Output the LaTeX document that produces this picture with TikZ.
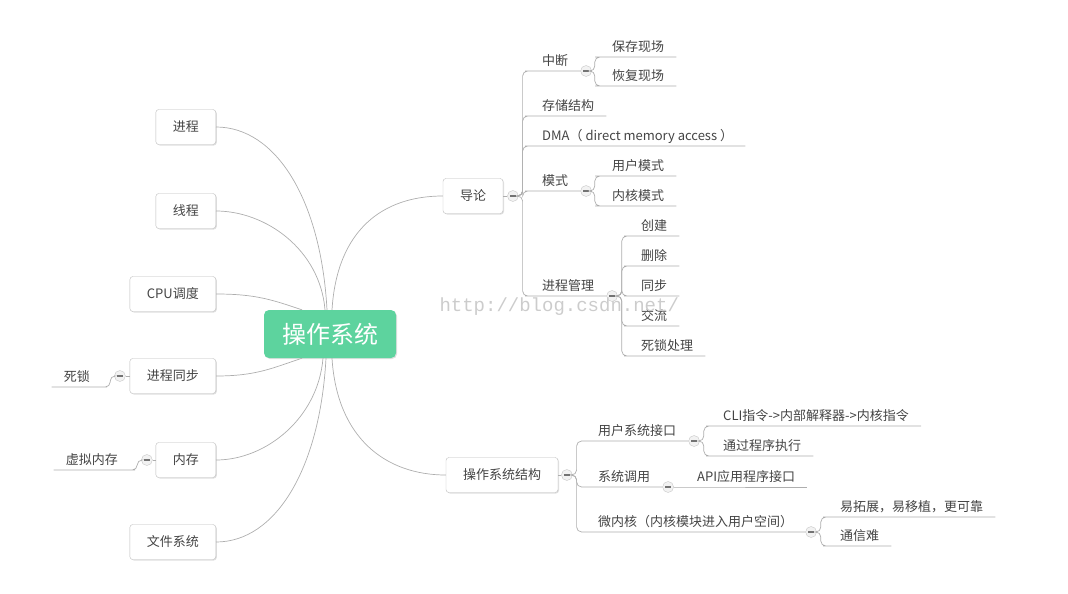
\documentclass[tikz,border=0pt]{standalone}
\usepackage{fontspec}
\setmainfont{Noto Sans CJK SC}
\newfontfamily\wmfont{Liberation Mono}
\usetikzlibrary{positioning,shadows}
\definecolor{inkgray}{HTML}{444444}
\definecolor{linegray}{HTML}{AEAEAE}
\definecolor{boxgray}{HTML}{BDBDBD}
\definecolor{rootgreen}{HTML}{5DD39E}
\tikzset{
  topic/.style={draw=boxgray, fill=white, rounded corners=3pt, minimum height=35pt,
    inner xsep=17pt, text=inkgray, font=\fontsize{13}{15}\selectfont,
    drop shadow={opacity=0.25, shadow xshift=1pt, shadow yshift=-1pt}},
  leaf/.style={inner xsep=12pt, inner ysep=3pt, text height=11pt, text depth=2pt,
    text=inkgray, font=\fontsize{13}{15}\selectfont},
  link/.style={draw=linegray, line width=0.7pt},
  elbow/.style={link, rounded corners=5pt},
  fold/.style={circle, draw=gray!45, fill=gray!10, minimum size=11pt, inner sep=0pt,
    path picture={\draw[black!55, line width=1.6pt]
      ([xshift=-2.8pt]path picture bounding box.center) --
      ([xshift=2.8pt]path picture bounding box.center);}},
}
\begin{document}
\begin{tikzpicture}[x=1pt, y=-1pt]
  \useasboundingbox (0,0) rectangle (1068,594);

  % root
  \node[fill=rootgreen, rounded corners=5pt, minimum width=132pt, minimum height=48pt,
    text=white, font=\fontsize{24}{28}\selectfont,
    drop shadow={opacity=0.25, shadow xshift=1pt, shadow yshift=-1pt}] (os) at (330,334) {操作系统};

  % left topics
  \node[topic, anchor=east] (jc) at (216,127) {进程};
  \node[topic, anchor=east] (xc) at (216,211) {线程};
  \node[topic, anchor=east] (cpu) at (216,294) {CPU调度};
  \node[topic, anchor=east] (jctb) at (216,376) {进程同步};
  \node[topic, anchor=east] (nc) at (216,460) {内存};
  \node[topic, anchor=east] (wjxt) at (216,542) {文件系统};

  \draw[link] (jc.east) .. controls +(60,0) and +(-6,-110) .. ([xshift=-3pt]os.north);
  \draw[link] (xc.east) .. controls +(50,0) and +(-5,-60) .. ([xshift=-5pt]os.north);
  \draw[link] (cpu.east) .. controls +(40,0) and +(-30,-10) .. ([xshift=-28pt]os.north);
  \draw[link] (jctb.east) .. controls +(40,0) and +(-30,10) .. ([xshift=-28pt]os.south);
  \draw[link] (nc.east) .. controls +(50,0) and +(-5,60) .. ([xshift=-7pt]os.south);
  \draw[link] (wjxt.east) .. controls +(60,0) and +(-6,110) .. ([xshift=-4pt]os.south);

  % left sub leaves
  \node[fold, left=4pt of jctb] (jctbfold) {};
  \node[leaf, anchor=south east] (ss) at (102,387) {死锁};
  \draw[link] (jctb.west) -- (jctbfold.east);
  \draw[elbow] (jctbfold.west) -- ++(-4,0) |- (ss.south east) -- (ss.south west);

  \node[fold, left=3pt of nc] (ncfold) {};
  \node[leaf, anchor=south east] (xnnc) at (130,470) {虚拟内存};
  \draw[link] (nc.west) -- (ncfold.east);
  \draw[elbow] (ncfold.west) -- ++(-4,0) |- (xnnc.south east) -- (xnnc.south west);

  % right topics
  \node[topic] (dl) at (473,196) {导论};
  \node[topic] (jg) at (502,475) {操作系统结构};
  \draw[link] (dl.west) .. controls +(-60,0) and +(5,-80) .. ([xshift=2pt]os.north);
  \draw[link] (jg.west) .. controls +(-60,0) and +(5,80) .. ([xshift=2pt]os.south);

  % 导论
  \node[fold, right=4pt of dl] (dlfold) {};
  \draw[link] (dl.east) -- (dlfold.west);
  \node[leaf, anchor=south west] (zd) at (530,71) {中断};
  \node[leaf, anchor=south west] (ccjg) at (530,116) {存储结构};
  \node[leaf, anchor=south west] (dma) at (530,146) {DMA（ direct memory access ）};
  \node[leaf, anchor=south west] (ms) at (530,191) {模式};
  \node[leaf, anchor=south west] (jcgl) at (530,296) {进程管理};
  \foreach \n in {zd,ccjg,dma,ms,jcgl}
    \draw[elbow] (dlfold.east) -- ++(4,0) |- (\n.south west) -- (\n.south east);

  \node[fold, right=0pt of zd.south east] (zdfold) {};
  \node[leaf, anchor=south west] (bcxc) at (600,57) {保存现场};
  \node[leaf, anchor=south west] (hfxc) at (600,86) {恢复现场};
  \foreach \n in {bcxc,hfxc}
    \draw[elbow] (zdfold.east) -- ++(3,0) |- (\n.south west) -- (\n.south east);

  \node[fold, right=0pt of ms.south east] (msfold) {};
  \node[leaf, anchor=south west] (yhms) at (600,176) {用户模式};
  \node[leaf, anchor=south west] (nhms) at (600,206) {内核模式};
  \foreach \n in {yhms,nhms}
    \draw[elbow] (msfold.east) -- ++(3,0) |- (\n.south west) -- (\n.south east);

  \node[fold, right=0pt of jcgl.south east] (jcglfold) {};
  \node[leaf, anchor=south west] (cj) at (629,236) {创建};
  \node[leaf, anchor=south west] (sc) at (629,266) {删除};
  \node[leaf, anchor=south west] (tb) at (629,296) {同步};
  \node[leaf, anchor=south west] (jl) at (629,326) {交流};
  \node[leaf, anchor=south west] (sscl) at (629,356) {死锁处理};
  \foreach \n in {cj,sc,tb,jl,sscl}
    \draw[elbow] (jcglfold.east) -- ++(4,0) |- (\n.south west) -- (\n.south east);

  % 操作系统结构
  \node[fold, right=3pt of jg] (jgfold) {};
  \draw[link] (jg.east) -- (jgfold.west);
  \node[leaf, anchor=south west] (yhjk) at (586,441) {用户系统接口};
  \node[leaf, anchor=south west] (xtdy) at (586,487) {系统调用};
  \node[leaf, anchor=south west] (wnh) at (586,532) {微内核（内核模块进入用户空间）};
  \foreach \n in {yhjk,xtdy,wnh}
    \draw[elbow] (jgfold.east) -- ++(4,0) |- (\n.south west) -- (\n.south east);

  \node[fold, right=0pt of yhjk.south east] (yhjkfold) {};
  \node[leaf, anchor=south west] (cli) at (711,426) {CLI指令->内部解释器->内核指令};
  \node[leaf, anchor=south west] (tgcx) at (711,456) {通过程序执行};
  \foreach \n in {cli,tgcx}
    \draw[elbow] (yhjkfold.east) -- ++(4,0) |- (\n.south west) -- (\n.south east);

  \node[fold, right=0pt of xtdy.south east] (xtdyfold) {};
  \node[leaf, anchor=south west] (api) at (685,487) {API应用程序接口};
  \draw[link] (xtdyfold.east) -- (api.south west) -- (api.south east);

  \node[fold, right=0pt of wnh.south east] (wnhfold) {};
  \node[leaf, anchor=south west] (ytz) at (828,517) {易拓展，易移植，更可靠};
  \node[leaf, anchor=south west] (txn) at (828,546) {通信难};
  \foreach \n in {ytz,txn}
    \draw[elbow] (wnhfold.east) -- ++(4,0) |- (\n.south west) -- (\n.south east);

  % watermark
  \node[text=gray!40, font=\wmfont\fontsize{19}{20}\selectfont, anchor=west] (wm) at (436,307) {http://blog.csdn.net/};
\end{tikzpicture}
\end{document}
